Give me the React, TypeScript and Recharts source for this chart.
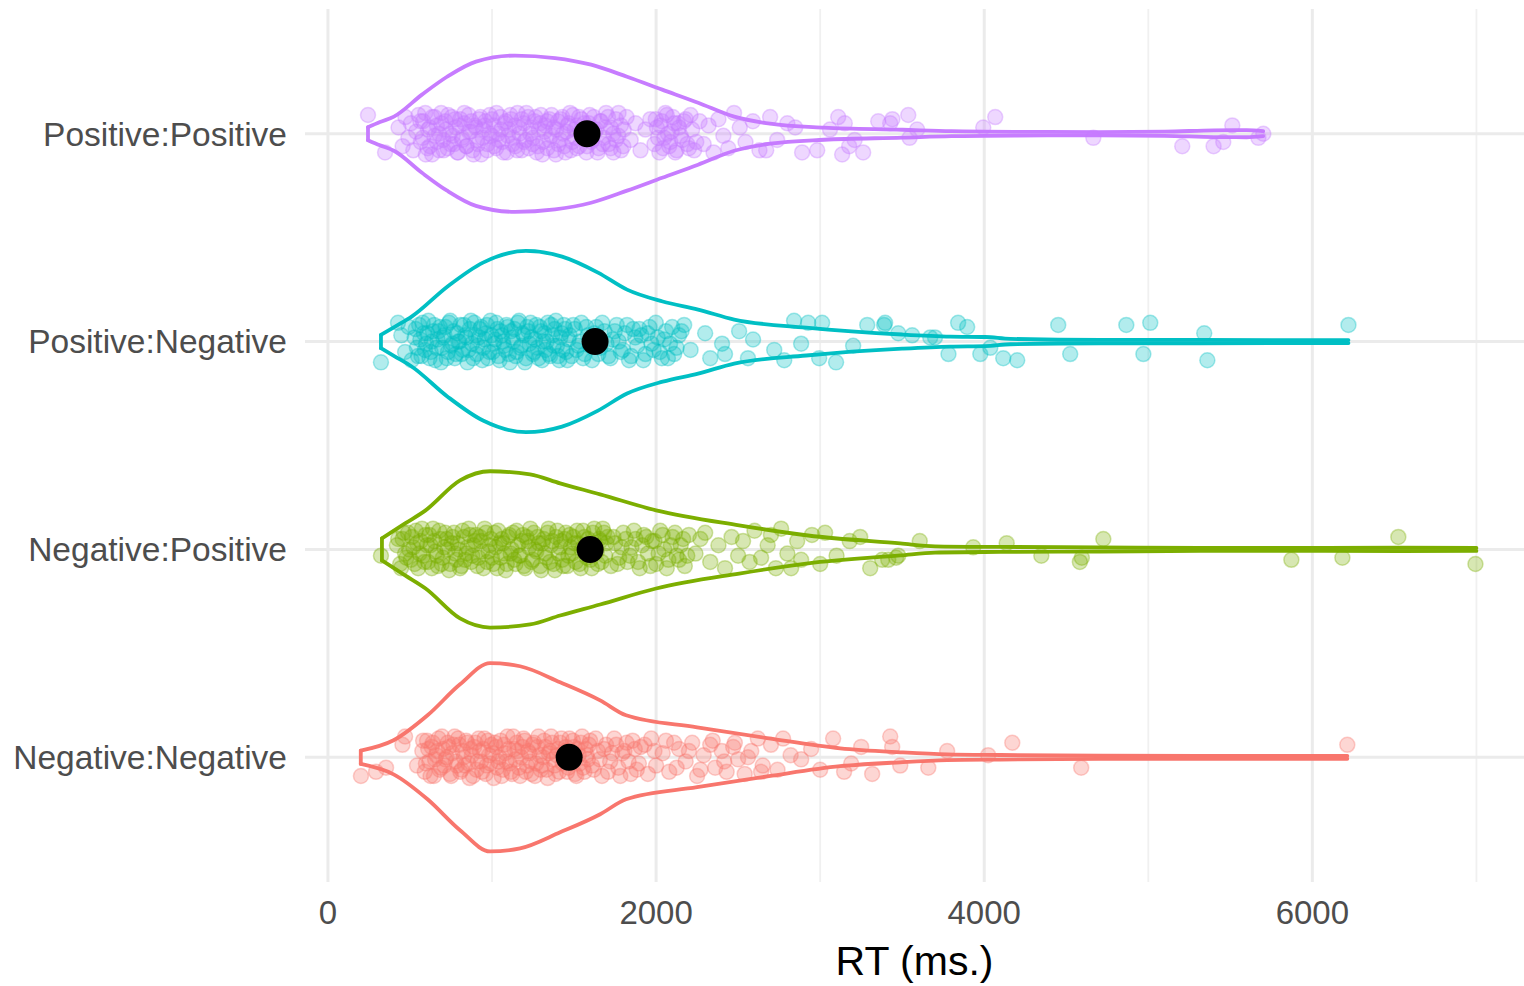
import React from 'react';
import { ScatterChart, Scatter, XAxis, YAxis, ReferenceLine } from 'recharts';

type Pair = [number, number];

// Categories from bottom (1) to top (4)
const categories = ['Negative:Negative', 'Negative:Positive', 'Positive:Negative', 'Positive:Positive'];
const colors = ['#F8766D', '#7CAE00', '#00BFC4', '#C77CFF'];
const xTicks = [0, 2000, 4000, 6000];
const minorTicks = [1000, 3000, 5000, 7000];
const yTicks = [1, 2, 3, 4];
const means = [1470, 1598, 1628, 1579];

// Violin outlines: [RT, half width in category units]
const nnViolin: Pair[] = [[200,0.032],[400,0.082],[607,0.202],[805,0.351],[988,0.453],[1171,0.438],[1415,0.361],[1659,0.274],[1817,0.202],[2250,0.144],[2687,0.091],[3122,0.043],[3488,0.024],[3774,0.014],[4098,0.011],[4707,0.008],[5317,0.007],[6213,0.007]];
const npViolin: Pair[] = [[329,0.053],[470,0.125],[595,0.188],[805,0.332],[988,0.376],[1232,0.361],[1415,0.318],[1659,0.265],[2000,0.188],[2506,0.116],[2927,0.067],[3488,0.029],[3700,0.015],[4098,0.012],[4707,0.010],[5317,0.007],[5927,0.007],[6537,0.008],[7000,0.007]];
const pnViolin: Pair[] = [[323,0.032],[409,0.072],[510,0.12],[729,0.265],[945,0.38],[1207,0.436],[1427,0.409],[1646,0.332],[1823,0.25],[2040,0.193],[2256,0.154],[2476,0.106],[2915,0.067],[3500,0.034],[3793,0.024],[4006,0.022],[4159,0.013],[4707,0.008],[5317,0.008],[5927,0.007],[6220,0.007]];
const ppViolin: Pair[] = [[244,0.031],[317,0.056],[402,0.082],[573,0.188],[726,0.274],[902,0.347],[1140,0.376],[1384,0.364],[1604,0.332],[1823,0.274],[2037,0.212],[2256,0.149],[2476,0.082],[2695,0.048],[3024,0.029],[3500,0.019],[3800,0.012],[4200,0.009],[4700,0.008],[5100,0.010],[5400,0.016],[5600,0.017],[5700,0.012]];

// Jittered trials: [RT, vertical jitter in category units]
const nnPoints: Pair[] = [
[201,-0.09],[293,-0.07],[354,-0.05],[454,0.06],[470,0.1],[543,-0.04],
[575,0.03],[590,-0.07],[604,0.08],[618,-0.02],[632,0.05],[646,-0.09],[660,0.01],[674,0.09],[688,-0.05],[702,0.04],[716,-0.01],[730,0.07],[744,-0.08],[758,0.02],[772,0.1],[786,-0.04],[800,0.06],[814,-0.06],[828,0.0],[842,0.08],[856,-0.03],[870,0.04],[884,-0.09],[898,0.07],[912,-0.02],[926,0.03],[940,-0.07],[954,0.09],[968,-0.04],[982,0.01],[996,0.06],[1010,-0.1],[1024,0.05],[1038,-0.02],[1052,0.08],[1066,-0.06],[1080,0.02],[1094,0.1],[1108,-0.03],[1122,-0.08],[1136,0.04],[1150,0.07],[1164,-0.05],[1178,0.0],[1192,0.09],[1206,-0.07],[1220,0.03],[1234,-0.02],[1248,0.06],[1262,-0.09],[1276,0.05],[1290,0.01],[1304,-0.04],[1318,0.08],[1332,-0.06],[1346,0.02],[1360,0.1],[1374,-0.01],[1388,-0.08],[1402,0.04],[1416,0.07],[1430,-0.03],[1444,0.03],[1458,-0.07],[1472,0.09],[1486,-0.02],[1500,0.05],[1514,-0.09],[1528,0.01],[1542,0.07],[1556,-0.05],[1570,0.04],[1584,-0.01],[1598,0.08],
[1620,-0.06],[1645,0.03],[1670,-0.09],[1695,0.06],[1720,-0.02],[1745,0.09],[1770,-0.05],[1795,0.02],[1820,0.07],[1845,-0.08],[1870,0.04],[1895,-0.03],
[1930,0.06],[1970,0.09],[2000,-0.04],[2040,0.02],[2080,-0.07],[2110,0.07],[2140,0.04],[2180,-0.02],[2220,0.07],[2250,-0.09],[2290,0.01],[2330,0.06],[2360,-0.05],[2400,0.03],[2430,-0.07],[2470,0.05],[2500,-0.01],[2540,-0.08],[2580,0.03],[2620,0.09],[2650,-0.04],[2700,0.06],[2740,-0.06],[2774,0.09],[2820,0.01],[2884,-0.01],[2945,0.04],[3000,-0.06],[3079,0.09],[3146,-0.07],[3189,-0.03],[3250,0.05],[3317,-0.08],[3427,0.1],[3439,0.05],[3488,-0.04],[3659,-0.05],[3774,0.03],[4024,0.01],[4171,0.07],[4591,-0.05],[6213,0.06]
];
const nnCore: Pair[] = [
[580,0.08],[597,-0.03],[611,0.04],[625,-0.09],[639,0.07],[653,-0.01],[667,0.03],[681,-0.06],[695,0.1],[709,-0.04],[723,0.0],[737,0.05],[751,-0.09],[765,0.06],[779,-0.02],[793,0.09],[807,-0.07],[821,0.03],[835,-0.04],[849,0.07],[863,-0.1],[877,0.01],[891,0.05],[905,-0.06],[919,0.09],[933,-0.02],[947,0.04],[961,-0.08],[975,0.08],[989,-0.03],[1003,0.02],[1017,0.07],[1031,-0.05],[1045,0.0],[1059,-0.09],[1073,0.06],[1087,-0.02],[1101,0.04],[1115,-0.07],[1129,0.1],[1143,-0.01],[1157,0.03],[1171,-0.09],[1185,0.05],[1199,0.08],[1213,-0.04],[1227,0.02],[1241,-0.08],[1255,0.07],[1269,-0.03],[1283,0.1],[1297,-0.06],[1311,0.0],[1325,0.05],[1339,-0.1],[1353,0.03],[1367,0.07],[1381,-0.04],[1395,0.01],[1409,-0.07],[1423,0.09],[1437,-0.01],[1451,0.05],[1465,-0.05],[1479,0.02],[1493,0.08],[1507,-0.08],[1521,0.04],[1535,-0.03],[1549,0.1],[1563,-0.07],[1577,0.01],[1591,0.06],[1610,-0.04],[1632,0.09],[1657,-0.01],[1682,0.04],[1707,-0.07],[1732,0.02],[1757,0.06],[1782,-0.09],[1807,0.03],[1832,-0.02],[1857,0.08],[1882,-0.06],[1907,0.05],[1950,-0.08],[1990,0.03],[2060,0.08],[2125,-0.05],[2200,0.03],[2270,-0.06],[2345,0.08],[2415,-0.02],[2480,0.07],[2560,0.0],[2640,-0.07]
];
const npPoints: Pair[] = [
[323,-0.03],[420,0.02],[440,-0.07],[455,0.05],[470,-0.02],[488,0.08],
[505,-0.05],[520,0.01],[535,0.09],[550,-0.09],[565,0.04],[580,-0.03],[595,0.07],[610,-0.06],[625,0.02],[640,0.1],[655,-0.01],[670,-0.08],[685,0.05],[700,-0.04],[715,0.08],[730,0.0],[745,-0.07],[760,0.06],[775,-0.02],[790,0.03],[805,-0.09],[820,0.09],[835,-0.05],[850,0.01],[865,0.07],[880,-0.03],[895,0.04],[910,-0.08],[925,0.06],[940,-0.01],[955,0.1],[970,-0.06],[985,0.02],[1000,-0.04],[1015,0.08],[1030,-0.09],[1045,0.03],[1060,0.05],[1075,-0.02],[1090,-0.07],[1105,0.07],[1120,0.0],[1135,-0.05],[1150,0.09],[1165,-0.03],[1180,0.04],[1195,-0.08],[1210,0.06],[1225,0.01],[1240,-0.06],[1255,0.08],[1270,-0.01],[1285,0.03],[1300,-0.1],[1315,0.05],[1330,-0.04],[1345,0.1],[1360,0.02],[1375,-0.07],[1390,0.06],[1405,-0.02],[1420,0.04],[1435,-0.08],[1450,0.08],[1465,-0.03],[1480,0.01],[1495,0.06],[1510,-0.06],[1525,0.03],[1540,-0.09],[1555,0.09],[1570,-0.01],[1585,0.05],[1600,-0.05],[1615,0.08],[1630,0.02],[1645,-0.07],[1660,0.04],[1675,0.1],[1690,-0.03],[1705,0.06],
[1725,-0.08],[1750,0.03],[1775,-0.04],[1800,0.08],[1825,-0.06],[1850,0.01],[1875,0.05],[1900,-0.09],[1925,0.07],[1950,-0.02],[1975,0.04],[2000,-0.07],[2025,0.09],[2050,0.0],[2075,-0.05],[2100,0.06],[2125,-0.03],[2150,0.02],[2175,-0.08],[2200,0.07],
[2240,-0.02],[2270,0.05],[2299,0.08],[2330,-0.06],[2380,0.02],[2420,-0.09],[2460,0.06],[2500,-0.03],[2530,0.04],[2570,-0.06],[2600,0.09],[2640,-0.04],[2680,0.02],[2700,0.07],[2730,-0.09],[2762,0.1],[2800,-0.02],[2823,-0.09],[2860,0.04],[2884,-0.05],[2950,0.07],[3000,-0.07],[3030,0.08],[3100,-0.03],[3180,0.04],[3244,0.06],[3305,-0.09],[3378,-0.05],[3415,-0.05],[3463,-0.04],[3476,-0.03],[3607,0.04],[3933,0.01],[4137,0.03],[4348,-0.03],[4583,-0.06],[4595,-0.04],[4726,0.05],[5872,-0.05],[6183,-0.04],[6524,0.06],[6994,-0.07]
];
const npCore: Pair[] = [
[428,0.05],[445,-0.09],[462,0.08],[478,-0.04],[495,0.0],[512,0.06],[528,-0.07],[543,0.03],[558,-0.02],[573,0.1],[588,-0.06],[603,0.02],[618,0.07],[633,-0.09],[648,0.04],[663,-0.03],[678,0.09],[693,-0.07],[708,0.01],[723,0.05],[738,-0.1],[753,0.03],[768,0.08],[783,-0.05],[798,0.0],[813,-0.08],[828,0.06],[843,-0.02],[858,0.1],[873,-0.06],[888,0.02],[903,0.07],[918,-0.04],[933,0.04],[948,-0.09],[963,0.08],[978,-0.01],[993,0.05],[1008,-0.07],[1023,0.01],[1038,0.09],[1053,-0.04],[1068,0.03],[1083,-0.1],[1098,0.06],[1113,-0.02],[1128,0.08],[1143,-0.07],[1158,0.02],[1173,-0.03],[1188,0.07],[1203,-0.09],[1218,0.04],[1233,0.1],[1248,-0.05],[1263,0.0],[1278,0.06],[1293,-0.08],[1308,0.03],[1323,-0.02],[1338,0.08],[1353,-0.06],[1368,0.04],[1383,-0.1],[1398,0.09],[1413,0.01],[1428,-0.05],[1443,0.05],[1458,-0.08],[1473,0.07],[1488,-0.02],[1503,0.03],[1518,0.09],[1533,-0.07],[1548,0.0],[1563,0.06],[1578,-0.04],[1593,0.02],[1608,-0.09],[1623,0.1],[1638,-0.01],[1653,0.05],[1668,-0.06],[1683,0.08],[1698,0.03],[1740,0.06],[1765,-0.07],[1790,0.01],[1815,0.05],[1840,-0.03],[1865,0.09],[1890,-0.06],[1915,0.02],[1940,0.06],[1965,-0.08],[1990,0.04],[2015,-0.02],[2040,0.07],[2065,-0.09],[2090,0.02],[2115,0.08],[2140,-0.05],[2165,0.05],[2190,-0.03]
];
const pnPoints: Pair[] = [
[323,-0.1],[427,0.09],[447,0.03],[470,-0.05],[492,0.07],[510,-0.09],
[528,0.02],[542,-0.03],[556,0.08],[570,-0.07],[584,0.04],[598,-0.01],[612,0.1],[626,-0.05],[640,0.05],[654,-0.09],[668,0.01],[682,0.07],[696,-0.03],[710,0.03],[724,-0.08],[738,0.09],[752,-0.02],[766,0.05],[780,-0.06],[794,0.0],[808,0.08],[822,-0.04],[836,0.03],[850,-0.1],[864,0.06],[878,-0.01],[892,0.09],[906,-0.06],[920,0.02],[934,0.07],[948,-0.03],[962,0.04],[976,-0.08],[990,0.1],[1004,-0.05],[1018,0.01],[1032,0.06],[1046,-0.09],[1060,0.03],[1074,-0.02],[1088,0.08],[1102,-0.06],[1116,0.05],[1130,0.0],[1144,-0.07],[1158,0.09],[1172,-0.03],[1186,0.04],[1200,-0.1],[1214,0.07],[1228,-0.01],[1242,0.02],[1256,-0.05],[1270,0.08],[1284,-0.08],[1298,0.05],[1312,0.0],[1326,-0.04],[1340,0.09],[1354,-0.07],[1368,0.03],[1382,0.06],[1396,-0.02],[1410,-0.09],[1424,0.04],[1438,0.08],[1452,-0.05],[1466,0.01],
[1485,-0.07],[1505,0.06],[1525,-0.02],[1545,0.09],[1565,-0.06],[1585,0.03],[1610,-0.09],[1635,0.07],[1660,-0.03],[1685,0.05],[1710,-0.07],[1735,0.01],[1760,0.08],[1785,-0.05],[1810,0.04],[1835,-0.09],[1860,0.06],[1885,-0.02],[1910,0.03],[1935,-0.06],[1960,0.07],[1985,-0.04],[2010,0.02],[2035,-0.08],[2060,0.05],[2085,-0.01],[2110,-0.06],[2140,0.03],
[2171,0.08],[2210,-0.04],[2299,0.04],[2330,-0.08],[2402,-0.01],[2420,-0.06],[2506,0.05],[2560,-0.08],[2591,0.01],[2720,-0.04],[2781,-0.09],[2841,0.1],[2884,-0.01],[2927,0.09],[2994,-0.08],[3012,0.09],[3097,-0.1],[3201,-0.02],[3287,0.08],[3390,0.08],[3396,0.09],[3476,0.04],[3561,0.03],[3671,0.02],[3700,0.02],[3782,-0.06],[3841,0.09],[3896,0.07],[3976,-0.06],[4037,-0.03],[4116,-0.08],[4201,-0.09],[4451,0.08],[4524,-0.06],[4866,0.08],[4970,-0.06],[5012,0.09],[5341,0.04],[5360,-0.09],[6220,0.08]
];
const pnCore: Pair[] = [
[535,0.06],[549,-0.07],[563,0.01],[577,0.09],[591,-0.04],[605,0.04],[619,-0.08],[633,0.0],[647,0.08],[661,-0.03],[675,0.05],[689,-0.1],[703,0.02],[717,0.07],[731,-0.05],[745,0.1],[759,-0.01],[773,-0.08],[787,0.04],[801,0.0],[815,-0.06],[829,0.08],[843,0.02],[857,-0.04],[871,0.1],[885,-0.08],[899,0.03],[913,-0.02],[927,0.06],[941,-0.09],[955,0.01],[969,0.08],[983,-0.05],[997,0.03],[1011,-0.01],[1025,0.09],[1039,-0.07],[1053,0.05],[1067,0.0],[1081,-0.04],[1095,0.07],[1109,-0.1],[1123,0.02],[1137,0.06],[1151,-0.05],[1165,0.1],[1179,-0.02],[1193,0.03],[1207,-0.08],[1221,0.05],[1235,0.09],[1249,-0.06],[1263,0.01],[1277,-0.03],[1291,0.07],[1305,-0.09],[1319,0.04],[1333,0.0],[1347,-0.06],[1361,0.08],[1375,-0.02],[1389,0.1],[1403,-0.07],[1417,0.02],[1431,-0.04],[1445,0.06],[1459,-0.09],[1473,0.03],[1495,0.08],[1515,-0.04],[1535,0.0],[1555,-0.08],[1575,0.07],[1598,-0.02],[1622,0.04],[1648,-0.06],[1672,0.09],[1698,-0.01],[1722,-0.08],[1748,0.05],[1772,0.0],[1798,-0.04],[1823,0.08],[1848,-0.07],[1873,0.02],[1898,0.06],[1922,-0.09],[1948,0.04],[1972,-0.01],[1998,0.09],[2022,-0.05],[2048,0.01],[2072,-0.08],[2098,0.07],[2125,-0.03],[2155,0.05]
];
const ppPoints: Pair[] = [
[244,0.09],[348,-0.09],[430,0.03],[455,-0.06],[472,0.08],[490,-0.02],
[505,0.05],[520,-0.08],[538,0.01],[552,0.09],[566,-0.04],[580,0.06],[596,-0.1],[610,0.02],[622,-0.06],[636,0.08],[650,-0.01],[664,0.04],[678,-0.08],[690,0.1],[703,-0.03],[716,0.06],[729,-0.07],[742,0.0],[755,0.08],[768,-0.05],[780,0.03],[793,-0.09],[806,0.07],[818,-0.02],[831,0.05],[844,-0.06],[857,0.09],[869,0.01],[882,-0.08],[895,0.04],[908,-0.03],[921,0.07],[934,-0.1],[947,0.02],[960,0.06],[973,-0.05],[986,0.09],[999,-0.01],[1012,0.04],[1025,-0.07],[1038,0.0],[1051,0.08],[1064,-0.04],[1077,0.05],[1090,-0.09],[1103,0.02],[1116,0.07],[1129,-0.02],[1142,-0.06],[1155,0.1],[1168,0.03],[1181,-0.08],[1194,0.05],[1207,-0.03],[1220,0.08],[1233,0.0],[1246,-0.05],[1259,0.06],[1272,-0.09],[1285,0.02],[1298,0.09],[1311,-0.04],[1324,0.04],[1337,-0.07],[1350,0.07],[1363,-0.01],[1376,0.03],[1389,-0.1],[1402,0.06],[1415,-0.03],[1428,0.08],[1441,-0.06],[1454,0.01],[1467,0.05],[1480,-0.08],[1493,0.09],[1506,-0.02],[1519,0.04],[1532,-0.06],[1545,0.07],[1560,0.0],[1575,-0.09],[1590,0.05],[1605,-0.04],[1620,0.08],[1635,0.02],[1650,-0.07],[1665,0.06],[1680,-0.02],[1695,0.1],[1710,-0.05],[1725,0.03],[1740,-0.09],[1755,0.07],[1770,-0.01],[1785,0.04],[1800,-0.06],[1820,0.08],[1845,-0.03],[1875,0.05],[1905,-0.08],[1935,0.02],[1965,0.07],[1990,-0.05],[2005,0.03],[2020,-0.09],[2035,0.06],[2050,-0.02],[2065,0.09],[2080,-0.06],[2095,0.01],[2110,0.05],[2125,-0.08],[2140,0.03],[2160,-0.03],[2180,0.07],[2200,-0.07],[2220,0.02],[2245,-0.04],[2265,0.06],
[2290,-0.05],[2320,0.04],[2350,-0.09],[2380,0.07],[2410,-0.01],[2440,-0.07],[2475,0.1],[2510,0.03],[2545,-0.04],[2590,0.06],[2630,-0.08],[2671,-0.08],[2695,0.08],[2738,-0.03],[2800,0.05],[2848,0.03],[2890,-0.09],[2982,-0.08],[3060,0.02],[3110,0.08],[3134,-0.1],[3150,0.05],[3177,-0.06],[3210,-0.03],[3262,-0.09],[3354,0.06],[3427,0.05],[3440,0.07],
[3537,0.09],[3591,0.02],[3545,-0.02],[3994,0.03],[4067,0.08],[4665,-0.02],[5207,-0.06],[5398,-0.06],[5457,-0.04],[5512,0.04],[5671,-0.02],[5701,0.0]
];
const ppCore: Pair[] = [
[563,0.06],[578,-0.02],[593,0.1],[607,-0.07],[621,0.03],[635,-0.1],[649,0.08],[663,-0.04],[677,0.0],[691,0.05],[705,-0.08],[719,0.02],[733,0.09],[747,-0.05],[761,-0.01],[775,0.07],[789,-0.09],[803,0.04],[817,-0.03],[831,0.1],[845,-0.06],[859,0.01],[873,0.06],[887,-0.1],[901,0.03],[915,-0.05],[929,0.08],[943,-0.02],[957,0.04],[971,-0.08],[985,0.0],[999,0.07],[1013,-0.06],[1027,0.1],[1041,-0.03],[1055,0.02],[1069,-0.09],[1083,0.06],[1097,-0.01],[1111,0.09],[1125,-0.05],[1139,0.04],[1153,-0.08],[1167,0.0],[1181,0.07],[1195,-0.04],[1209,0.1],[1223,-0.07],[1237,0.03],[1251,-0.02],[1265,0.08],[1279,-0.06],[1293,0.05],[1307,-0.1],[1321,0.01],[1335,0.06],[1349,-0.03],[1363,0.09],[1377,-0.08],[1391,0.02],[1405,-0.05],[1419,0.07],[1433,0.0],[1447,-0.09],[1461,0.04],[1475,0.1],[1489,-0.04],[1503,0.02],[1517,-0.07],[1531,0.08],[1547,-0.01],[1563,0.05],[1579,-0.06],[1595,0.09],[1611,-0.03],[1627,0.01],[1643,-0.09],[1659,0.06],[1675,-0.05],[1691,0.03],[1707,0.08],[1723,-0.07],[1739,0.0],[1755,-0.03],[1771,0.1],[1787,-0.08],[1803,0.02],[1998,0.07],[2012,-0.02],[2027,0.04],[2042,-0.07],[2057,0.1],[2072,0.0],[2087,-0.04],[2102,0.08],[2117,-0.09],[2132,0.05],[2150,-0.01],[2170,0.06],[2190,-0.05],[2210,0.09],[2232,-0.08]
];

const violins: Pair[][] = [nnViolin, npViolin, pnViolin, ppViolin];
const pointSets: Pair[][] = [nnPoints.concat(nnCore), npPoints.concat(npCore), pnPoints.concat(pnCore), ppPoints.concat(ppCore)];

const FONT = '"Liberation Sans", Arial, Helvetica, sans-serif';
const GRID = '#ebebeb';

const Nothing = () => <g />;

const makeDot = (color: string) => (props: any) => (
  <circle cx={props.cx} cy={props.cy} r={7.5} fill={color} fillOpacity={0.3} stroke={color} strokeOpacity={0.35} strokeWidth={1.5} />
);

const MeanDot = (props: any) => <circle cx={props.cx} cy={props.cy} r={13.5} fill="#000" />;

export default function App() {
  const violinSeries: React.ReactNode[] = [];
  violins.forEach((v, i) => {
    const c = i + 1;
    const color = colors[i];
    const top = v.map(([x, w]) => ({ x, y: c + w }));
    const bottom = v.map(([x, w]) => ({ x, y: c - w }));
    const cap = [{ x: v[0][0], y: c + v[0][1] }, { x: v[0][0], y: c - v[0][1] }];
    const lineStyle = { stroke: color, strokeWidth: 3.8, strokeLinecap: 'round', strokeLinejoin: 'round' } as any;
    violinSeries.push(
      <Scatter key={`vt${i}`} data={top} fill={color} line={lineStyle} lineJointType="monotoneX" shape={Nothing} isAnimationActive={false} />,
      <Scatter key={`vb${i}`} data={bottom} fill={color} line={lineStyle} lineJointType="monotoneX" shape={Nothing} isAnimationActive={false} />,
      <Scatter key={`vc${i}`} data={cap} fill={color} line={lineStyle} lineJointType="linear" shape={Nothing} isAnimationActive={false} />
    );
  });

  const pointSeries = pointSets.map((pts, i) => (
    <Scatter
      key={`p${i}`}
      data={pts.map(([x, j]) => ({ x, y: i + 1 + j }))}
      fill={colors[i]}
      shape={makeDot(colors[i])}
      isAnimationActive={false}
    />
  ));

  const meanData = means.map((m, i) => ({ x: m, y: i + 1 }));

  return (
    <div style={{ position: 'absolute', left: 0, top: 0, width: 1524, height: 986, background: '#fff', overflow: 'hidden' }}>
      <ScatterChart width={1524} height={986} margin={{ top: 9, right: 0, bottom: 0, left: 0 }}>
        {minorTicks.map((t) => (
          <ReferenceLine key={`m${t}`} x={t} stroke="#f0f0f0" strokeWidth={1.8} zIndex={-100} />
        ))}
        {xTicks.map((t) => (
          <ReferenceLine key={`M${t}`} x={t} stroke={GRID} strokeWidth={3} zIndex={-100} />
        ))}
        {yTicks.map((t) => (
          <ReferenceLine key={`y${t}`} y={t} stroke={GRID} strokeWidth={3} zIndex={-100} />
        ))}
        <XAxis
          type="number"
          dataKey="x"
          domain={[-140, 7290]}
          ticks={xTicks}
          interval={0}
          allowDataOverflow
          axisLine={false}
          tickLine={false}
          tickSize={0}
          tickMargin={19}
          height={104}
          tick={{ fontSize: 33, fill: '#4d4d4d', fontFamily: FONT }}
          label={{ value: 'RT (ms.)', position: 'insideBottom', offset: 11, fill: '#000', fontSize: 41, fontFamily: FONT }}
        />
        <YAxis
          type="number"
          dataKey="y"
          domain={[0.4, 4.6]}
          ticks={yTicks}
          interval={0}
          allowDataOverflow
          axisLine={false}
          tickLine={false}
          tickSize={0}
          tickMargin={18}
          width={305}
          tickFormatter={(v: number) => categories[v - 1]}
          tick={{ fontSize: 33.5, fill: '#4d4d4d', fontFamily: FONT }}
        />
        {violinSeries}
        {pointSeries}
        <Scatter data={meanData} fill="#000" shape={MeanDot} isAnimationActive={false} />
      </ScatterChart>
    </div>
  );
}
